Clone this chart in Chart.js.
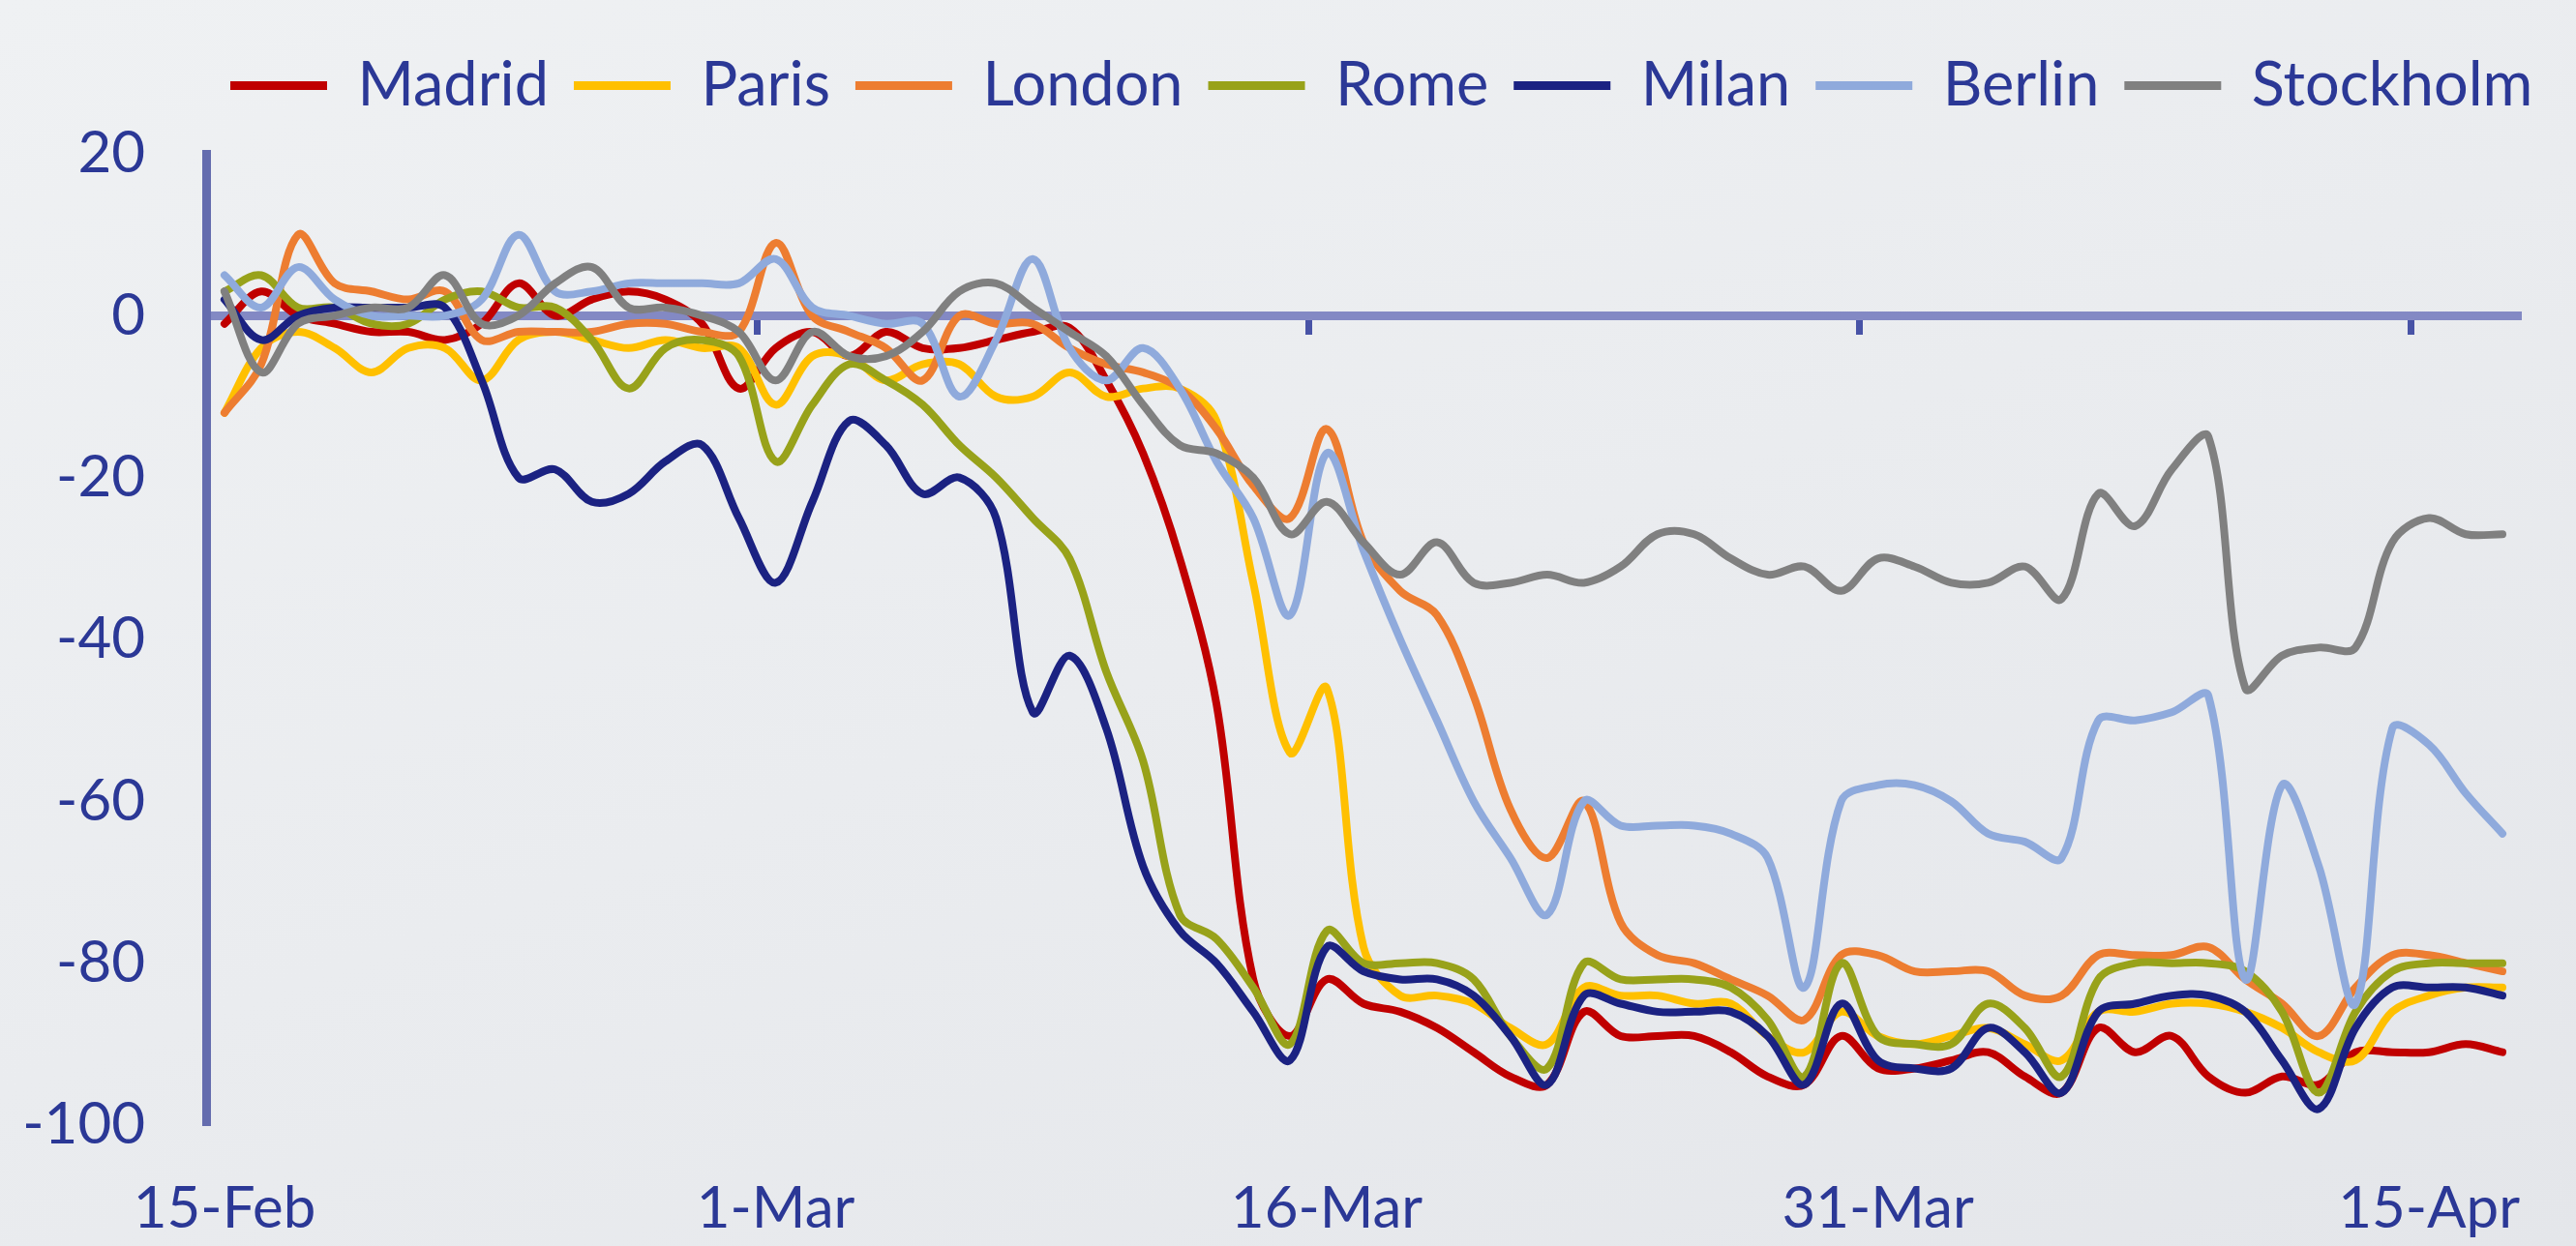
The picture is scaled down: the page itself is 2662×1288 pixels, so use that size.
<!DOCTYPE html>
<html>
<head>
<meta charset="utf-8">
<script src="https://cdn.jsdelivr.net/npm/chart.js"></script>
<style>
html,body{margin:0;padding:0;}
body{width:2662px;height:1288px;overflow:hidden;
  background:linear-gradient(160deg,#eff1f3 0%,#eaecef 50%,#e4e6ea 100%);}
#wrap{position:relative;width:2662px;height:1288px;}
canvas{display:block;}
</style>
</head>
<body>
<div id="wrap"><canvas id="c" width="2662" height="1288"></canvas></div>
<script>
// ---- categories (daily, 15-Feb .. 17-Apr 2020) ----
const dates = [
 '15-Feb','16-Feb','17-Feb','18-Feb','19-Feb','20-Feb','21-Feb','22-Feb','23-Feb','24-Feb',
 '25-Feb','26-Feb','27-Feb','28-Feb','29-Feb',
 '1-Mar','2-Mar','3-Mar','4-Mar','5-Mar','6-Mar','7-Mar','8-Mar','9-Mar','10-Mar',
 '11-Mar','12-Mar','13-Mar','14-Mar','15-Mar','16-Mar','17-Mar','18-Mar','19-Mar','20-Mar',
 '21-Mar','22-Mar','23-Mar','24-Mar','25-Mar','26-Mar','27-Mar','28-Mar','29-Mar','30-Mar','31-Mar',
 '1-Apr','2-Apr','3-Apr','4-Apr','5-Apr','6-Apr','7-Apr','8-Apr','9-Apr','10-Apr',
 '11-Apr','12-Apr','13-Apr','14-Apr','15-Apr','16-Apr','17-Apr'
];
const xTickLabels = ['15-Feb','1-Mar','16-Mar','31-Mar','15-Apr'];
const yMin = -100, yMax = 20, yStep = 20;

// ---- series values ----
const madrid = [-1,3,0,-1,-2,-2,-3,-1,4,0,
 2,3,2,-1,-9,-4,-2,-5,-2,-4,
 -4,-3,-2,-1.5,-8,-17,-30,-48,-82,-89,
 -82,-85,-86,-88,-91,-94,-95,-86,-89,-89,
 -89,-91,-94,-95,-89,-93,-93,-92,-91,-94,
 -96,-88,-91,-89,-94,-96,-94,-95,-91,-91,
 -91,-90,-91];
const paris = [-12,-4,-2,-4,-7,-4,-4,-8,-3,-2,
 -3,-4,-3,-4,-4,-11,-5,-5,-8,-6,
 -6,-10,-10,-7,-10,-9,-9,-13,-33,-54,
 -46,-78,-84,-84,-85,-88,-90,-83,-84,-84,
 -85,-85,-89,-91,-86,-89,-90,-89,-88,-90,
 -92,-86,-86,-85,-85,-86,-88,-91,-92,-86,
 -84,-83,-83];
const london = [-12,-6,10,4,3,2,3,-3,-2,-2,
 -2,-1,-1,-2,-2,9,0,-2,-4,-8,
 0,-1,-1,-4,-6,-7,-9,-14,-21,-25,
 -14,-28,-34,-37,-47,-61,-67,-60,-75,-79,
 -80,-82,-84,-87,-79,-79,-81,-81,-81,-84,
 -84,-79,-79,-79,-78,-82,-85,-89,-83,-79,
 -79,-80,-81];
const rome = [3,5,1,1,-1,-1,2,3,1,1,
 -3,-9,-4,-3,-5,-18,-11,-6,-8,-11,
 -16,-20,-25,-30,-44,-55,-74,-77,-83,-90,
 -76,-80,-80,-80,-82,-89,-93,-80,-82,-82,
 -82,-83,-87,-94,-80,-89,-90,-90,-85,-88,
 -94,-82,-80,-80,-80,-81,-86,-96,-86,-81,
 -80,-80,-80];
const milan = [2,-3,0,1,1,1,1,-8,-20,-19,
 -23,-22,-18,-16,-25,-33,-23,-13,-16,-22,
 -20,-25,-49,-42,-51,-68,-76,-80,-86,-92,
 -78,-81,-82,-82,-84,-89,-95,-84,-85,-86,
 -86,-86,-89,-95,-85,-92,-93,-93,-88,-91,
 -96,-86,-85,-84,-84,-86,-92,-98,-88,-83,
 -83,-83,-84];
const berlin = [5,1,6,2,0,0,0,2,10,3,
 3,4,4,4,4,7,1,0,-1,-1,
 -10,-3,7,-4,-8,-4,-9,-18,-25,-37,
 -17,-29,-40,-50,-60,-67,-74,-60,-63,-63,
 -63,-64,-67,-83,-60,-58,-58,-60,-64,-65,
 -67,-50,-50,-49,-47,-82,-58,-68,-85,-51,
 -53,-59,-64];
const stockholm = [3,-7,-1,0,1,1,5,-1,0,4,
 6,1,1,0,-2,-8,-2,-5,-5,-2,
 3,4,1,-2,-5,-11,-16,-17,-20,-27,
 -23,-28,-32,-28,-33,-33,-32,-33,-31,-27,
 -27,-30,-32,-31,-34,-30,-31,-33,-33,-31,
 -35,-22,-26,-19,-15,-46,-42,-41,-41,-28,
 -25,-27,-27];

const seriesNames  = ['Madrid','Paris','London','Rome','Milan','Berlin','Stockholm'];
const seriesValues = [madrid, paris, london, rome, milan, berlin, stockholm];
const seriesColors = ['#c00000','#ffc000','#ed7d31','#98a21a','#1b2282','#8faadc','#808080'];

const TEXT = '#2b3896';
const FONT = 'Lato';

function draw(){
  Chart.defaults.font.family = FONT;
  const datasets = seriesNames.map((name, i) => ({
    label: name,
    data: seriesValues[i],
    xAxisID: 'x',
    yAxisID: 'y',
    borderColor: seriesColors[i],
    backgroundColor: seriesColors[i],
    borderWidth: 8,
    pointRadius: 0,
    tension: 0.35,
    borderJoinStyle: 'round',
    borderCapStyle: 'round',
    order: seriesNames.length - 1 - i
  }));

  const legendFix = {
    id: 'legendFix',
    beforeLayout(chart){
      const lg = chart.legend;
      if (lg && !lg._patched){
        const fit = lg.fit;
        lg.fit = function(){ fit.call(this); this.height = 128; };
        lg._patched = true;
      }
    },
    afterLayout(chart){
      const lg = chart.legend;
      const dx = 238 - (lg.left + lg.options.labels.padding);
      lg.left += dx; lg.right += dx;
    }
  };

  new Chart(document.getElementById('c'), {
    type: 'line',
    data: { labels: dates, datasets },
    options: {
      responsive: false,
      devicePixelRatio: 1,
      animation: false,
      events: [],
      layout: { padding: { top: 31, left: 15, right: 57, bottom: 0 } },
      plugins: {
        tooltip: { enabled: false },
        legend: {
          position: 'top',
          align: 'start',
          labels: {
            font: { size: 63, family: FONT },
            color: TEXT,
            boxWidth: 100,
            boxHeight: 9,
            padding: 26,
            sort: (a, b) => a.datasetIndex - b.datasetIndex,
            generateLabels(chart){
              const items = Chart.defaults.plugins.legend.labels.generateLabels(chart);
              items.forEach(it => { it.lineWidth = 0; it.fillStyle = it.strokeStyle; });
              return items;
            }
          }
        }
      },
      scales: {
        x: {
          type: 'category',
          axis: 'x',
          position: 'bottom',
          offset: true,
          grid: { display: false, drawTicks: false, offset: true },
          border: { display: false },
          ticks: {
            autoSkip: false, maxRotation: 0, minRotation: 0,
            padding: 51,
            color: TEXT,
            font: { size: 60, family: FONT },
            callback(v, i){ const l = dates[i]; return xTickLabels.includes(l) ? l : ''; }
          },
          afterFit(s){ s.height = 125; }
        },
        x2: {
          type: 'category',
          axis: 'x',
          position: { y: 0 },
          offset: true,
          grid: {
            display: true, offset: true, drawOnChartArea: false, drawTicks: true,
            tickLength: 15, tickWidth: 7,
            color: 'rgba(0,0,0,0)',
            tickColor: ctx => (ctx.index > 0 && xTickLabels.includes(dates[ctx.index])) ? '#4853a6' : 'rgba(0,0,0,0)'
          },
          border: { display: true, color: '#8389c4', width: 9 },
          ticks: { display: false }
        },
        y: {
          type: 'linear',
          position: 'left',
          min: yMin, max: yMax,
          grid: { display: true, drawOnChartArea: false, drawTicks: false },
          border: { display: true, color: '#646cae', width: 9 },
          ticks: {
            stepSize: yStep,
            padding: 63,
            color: TEXT,
            font: { size: 60, family: FONT }
          },
          afterFit(s){ s.width = 198; }
        }
      }
    },
    plugins: [legendFix]
  });
}
if (document.fonts && document.fonts.load) {
  document.fonts.load('60px Lato').then(draw, draw);
} else { draw(); }
</script>
</body>
</html>
